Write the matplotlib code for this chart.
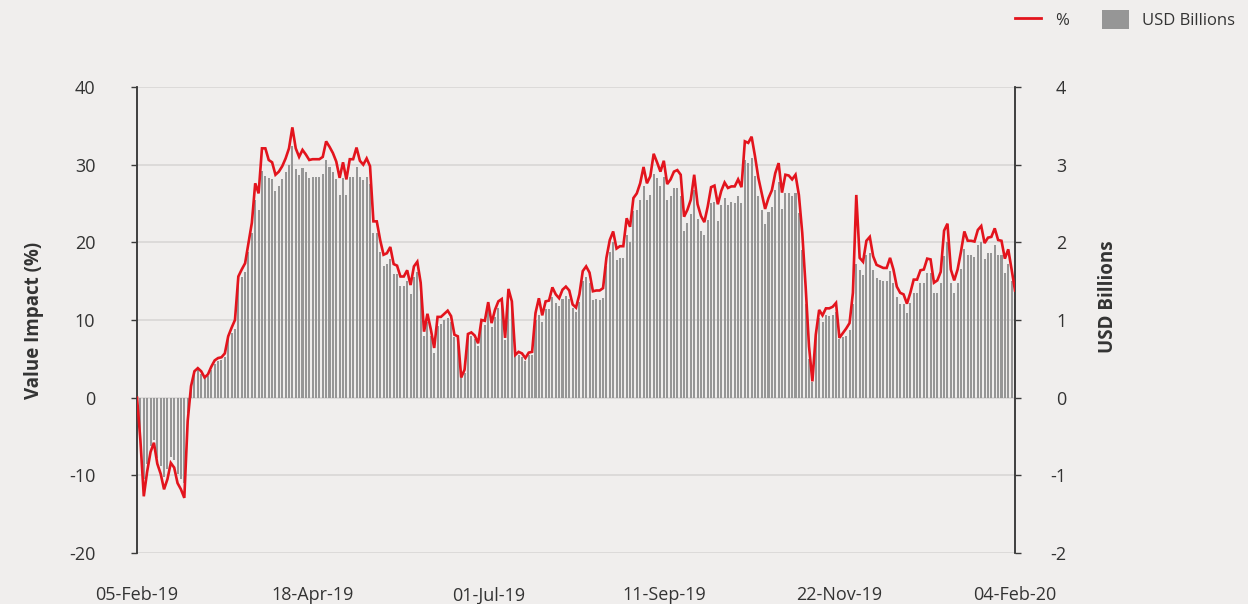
import numpy as np
import matplotlib
matplotlib.use('Agg')
import matplotlib.pyplot as plt
from matplotlib.lines import Line2D
from matplotlib.patches import Patch

plt.rcParams['font.family'] = ['Open Sans', 'DejaVu Sans']

# daily (business day) series, 05-Feb-19 .. 04-Feb-20
value_pct = [
    0.0, -5.5, -12.7, -9.5, -7.0, -5.8, -8.5, -9.8, -11.8, -10.5,
    -8.4, -9.0, -11.0, -11.8, -12.9, -3.0, 1.5, 3.4, 3.8, 3.4,
    2.6, 3.0, 4.0, 4.8, 5.1, 5.2, 5.7, 7.9, 9.0, 10.0,
    15.6, 16.5, 17.3, 19.9, 22.5, 27.6, 26.3, 32.1, 32.1, 30.6,
    30.3, 28.7, 29.1, 29.8, 30.8, 32.1, 34.8, 32.1, 31.0, 31.9,
    31.3, 30.6, 30.7, 30.7, 30.7, 31.0, 33.0, 32.3, 31.5, 30.4,
    28.3, 30.3, 28.1, 30.7, 30.7, 32.2, 30.5, 30.0, 30.8, 29.8,
    22.7, 22.7, 20.3, 18.4, 18.6, 19.4, 17.2, 17.0, 15.6, 15.6,
    16.4, 14.5, 16.9, 17.5, 14.8, 8.5, 10.8, 8.8, 6.4, 10.4,
    10.4, 10.8, 11.2, 10.5, 8.1, 7.9, 2.6, 3.6, 8.2, 8.4,
    8.0, 7.0, 10.0, 9.9, 12.3, 9.6, 11.3, 12.4, 12.7, 7.7,
    14.0, 12.4, 5.5, 5.9, 5.7, 5.1, 5.8, 5.9, 10.9, 12.8,
    10.6, 12.4, 12.5, 14.2, 13.3, 12.8, 13.9, 14.3, 13.8, 12.0,
    11.6, 13.3, 16.3, 16.9, 16.1, 13.7, 13.8, 13.8, 14.1, 18.0,
    20.3, 21.4, 19.2, 19.5, 19.5, 23.1, 22.0, 25.7, 26.3, 27.6,
    29.7, 27.6, 28.5, 31.4, 30.3, 29.1, 30.5, 27.5, 28.1, 29.1,
    29.3, 28.7, 23.3, 24.2, 25.5, 28.7, 24.9, 23.4, 22.6, 24.6,
    27.1, 27.3, 24.9, 26.6, 27.7, 27.0, 27.2, 27.2, 28.1, 27.1,
    33.0, 32.8, 33.6, 31.1, 28.3, 26.3, 24.3, 25.7, 26.7, 28.9,
    30.2, 26.4, 28.7, 28.6, 28.1, 28.7, 26.1, 21.2, 14.3, 6.6,
    2.1, 8.1, 11.3, 10.6, 11.5, 11.5, 11.7, 12.2, 7.7, 8.3,
    8.9, 9.6, 13.5, 26.1, 18.0, 17.5, 20.2, 20.7, 18.2, 17.1,
    16.9, 16.7, 16.7, 18.0, 16.5, 14.3, 13.5, 13.3, 12.1, 13.5,
    15.2, 15.2, 16.4, 16.5, 17.9, 17.8, 14.8, 15.1, 16.2, 21.5,
    22.4, 16.5, 15.1, 16.5, 18.8, 21.4, 20.2, 20.2, 20.1, 21.6,
    22.1, 19.9, 20.6, 20.7, 21.8, 20.3, 20.2, 17.9, 19.1, 16.5,
    13.8,
]

usd_bn = [
    0.0, -0.45, -1.05, -0.85, -0.62, -0.55, -0.78, -0.88, -1.02, -0.92,
    -0.76, -0.80, -0.98, -1.05, -1.10, -0.20, 0.10, 0.32, 0.36, 0.30,
    0.25, 0.28, 0.36, 0.43, 0.47, 0.49, 0.52, 0.75, 0.83, 0.88,
    1.52, 1.55, 1.62, 1.88, 2.12, 2.55, 2.42, 2.92, 2.85, 2.83,
    2.81, 2.66, 2.72, 2.81, 2.90, 3.00, 3.24, 2.94, 2.87, 2.96,
    2.90, 2.83, 2.84, 2.84, 2.84, 2.88, 3.06, 2.97, 2.90, 2.81,
    2.61, 2.83, 2.61, 2.84, 2.84, 2.97, 2.84, 2.80, 2.84, 2.75,
    2.12, 2.12, 1.88, 1.70, 1.72, 1.78, 1.59, 1.59, 1.44, 1.44,
    1.50, 1.33, 1.55, 1.62, 1.35, 0.80, 0.98, 0.80, 0.57, 0.92,
    0.95, 1.00, 1.02, 0.97, 0.78, 0.74, 0.28, 0.32, 0.80, 0.80,
    0.76, 0.67, 0.93, 0.93, 1.15, 0.91, 1.04, 1.15, 1.20, 0.74,
    1.30, 1.15, 0.55, 0.55, 0.52, 0.47, 0.55, 0.55, 1.00, 1.07,
    0.97, 1.14, 1.14, 1.30, 1.22, 1.18, 1.27, 1.31, 1.27, 1.15,
    1.10, 1.23, 1.50, 1.55, 1.48, 1.26, 1.27, 1.26, 1.28, 1.70,
    1.87, 2.00, 1.77, 1.80, 1.80, 2.10, 2.00, 2.40, 2.42, 2.55,
    2.73, 2.55, 2.61, 2.88, 2.83, 2.72, 2.84, 2.54, 2.60, 2.70,
    2.70, 2.60, 2.14, 2.25, 2.36, 2.67, 2.30, 2.14, 2.09, 2.29,
    2.50, 2.52, 2.27, 2.48, 2.57, 2.48, 2.52, 2.50, 2.60, 2.50,
    3.06, 3.02, 3.09, 2.85, 2.60, 2.41, 2.23, 2.39, 2.46, 2.67,
    2.78, 2.43, 2.64, 2.63, 2.60, 2.64, 2.38, 1.90, 1.20, 0.50,
    0.20, 0.80, 1.03, 0.97, 1.07, 1.05, 1.07, 1.10, 0.75, 0.78,
    0.80, 0.87, 1.20, 1.72, 1.65, 1.58, 1.84, 1.86, 1.65, 1.54,
    1.52, 1.50, 1.50, 1.63, 1.48, 1.29, 1.20, 1.20, 1.09, 1.22,
    1.35, 1.35, 1.48, 1.48, 1.60, 1.60, 1.35, 1.35, 1.48, 1.82,
    2.01, 1.48, 1.35, 1.48, 1.66, 1.92, 1.84, 1.84, 1.81, 1.96,
    2.00, 1.78, 1.86, 1.86, 1.96, 1.84, 1.84, 1.60, 1.72, 1.50,
    1.27,
]

date_labels = ['05-Feb-19', '18-Apr-19', '01-Jul-19', '11-Sep-19', '22-Nov-19', '04-Feb-20']
label_every = 52

assert len(value_pct) == len(usd_bn)

RED = '#e3141d'
GREY = '#969696'
BG = '#f0eeed'
AXC = '#3a3a3a'
TXT = '#333333'

x = np.arange(len(value_pct))

fig = plt.figure(figsize=(12.48, 6.04), dpi=100, facecolor=BG)
ax2 = fig.add_axes([0.1098, 0.0844, 0.7035, 0.7716])
ax = ax2.twinx()
ax2.yaxis.tick_right()
ax.yaxis.tick_left()
ax2.set_facecolor(BG)

# bars on right axis
ax2.bar(x, usd_bn, width=0.6, color=GREY, linewidth=0, zorder=2)
ax2.set_ylim(-2, 4)
ax2.set_yticks(np.arange(-2, 5, 1))
ax2.grid(axis='y', color='#d9d6d6', linewidth=1.2, zorder=0)
ax2.set_axisbelow(True)

# line on left axis
ax.plot(x, value_pct, color=RED, linewidth=1.9, zorder=3, solid_joinstyle='miter')
ax.set_ylim(-20, 40)
ax.set_yticks(np.arange(-20, 41, 10))

ax.set_zorder(ax2.get_zorder() + 1)
ax.patch.set_visible(False)

ax2.set_xlim(0, len(x) - 1)
ax2.set_xticks(np.arange(0, len(x), label_every))
ax2.set_xticklabels(date_labels)
ax2.tick_params(axis='x', length=0, pad=24, labelsize=13, labelcolor=TXT)

for a in (ax, ax2):
    for s in ('top', 'bottom'):
        a.spines[s].set_visible(False)
    a.spines['left'].set_color(AXC)
    a.spines['right'].set_color(AXC)
    a.spines['left'].set_linewidth(1.1)
    a.spines['right'].set_linewidth(1.1)

ax.tick_params(axis='y', left=True, right=False, labelleft=True, labelright=False,
               direction='out', length=4, width=1, color=AXC, pad=26,
               labelsize=13, labelcolor=TXT)
ax2.tick_params(axis='y', right=True, left=False, labelright=True, labelleft=False,
                direction='out', length=4, width=1, color=AXC, pad=33,
                labelsize=13, labelcolor=TXT)
ax.set_yticklabels([str(v) for v in range(-20, 41, 10)])
ax2.set_yticklabels([str(v) for v in range(-2, 5)])
for lab in ax2.get_yticklabels():
    lab.set_horizontalalignment('right')

fig.text(0.027, 0.47, 'Value Impact (%)', rotation=90, ha='center', va='center',
         fontsize=13.5, fontweight='bold', color=TXT)
fig.text(0.888, 0.508, 'USD Billions', rotation=90, ha='center', va='center',
         fontsize=13.5, fontweight='bold', color=TXT)

handles = [Line2D([0], [0], color=RED, linewidth=2),
           Patch(facecolor=GREY, edgecolor='none')]
fig.legend(handles, ['%', 'USD Billions'], loc='upper right', bbox_to_anchor=(1.0015, 1.008),
           ncol=2, frameon=False, fontsize=12, handlelength=1.6, handleheight=1.4,
           columnspacing=2.0, handletextpad=0.8, labelcolor=TXT)

fig.savefig('out.png', dpi=100, facecolor=BG)
